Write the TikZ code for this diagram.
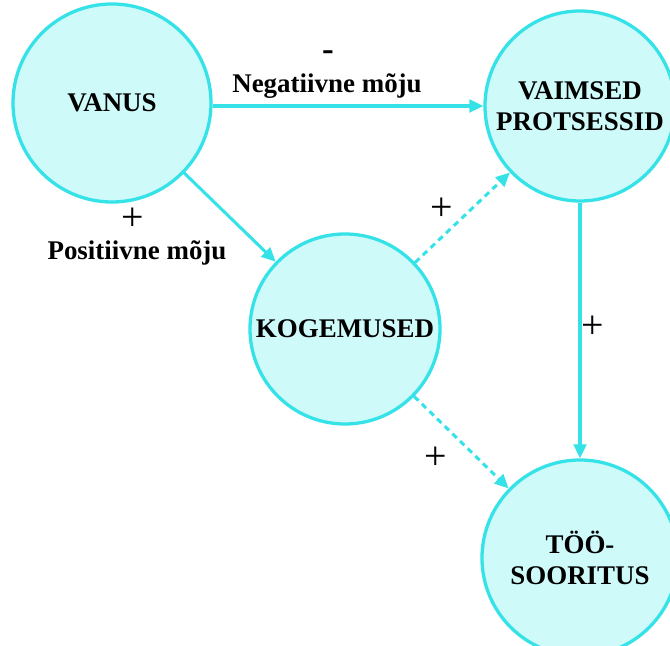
\documentclass[tikz,border=0pt]{standalone}
\usepackage{fontspec}
\setmainfont{Liberation Serif}
\usetikzlibrary{arrows.meta}

\definecolor{ringcyan}{RGB}{52,226,232}
\definecolor{fillcyan}{RGB}{206,250,250}

\tikzset{
  bubble/.style={circle,draw=ringcyan,fill=fillcyan,line width=2.8pt,
    inner sep=0pt,align=center,font=\fontsize{23}{26}\selectfont\bfseries},
  link/.style={draw=ringcyan,line width=2.6pt,
    -{Triangle[length=0.42cm,width=0.38cm]}},
  weak/.style={link,dash pattern=on 0.18cm off 0.14cm},
  sign/.style={inner sep=0pt,font=\fontsize{34}{34}\selectfont},
  effect/.style={inner sep=0pt,font=\fontsize{23}{26}\selectfont\bfseries}
}

\begin{document}
\begin{tikzpicture}[x=0.03cm,y=0.03cm]
      \useasboundingbox (0,0) rectangle (670,646);

      \begin{scope}[every node/.style={bubble}]
        \node[minimum size=5.94cm] (vanus)     at (112,543) {VANUS};
        \node[minimum size=5.7cm]  (vaimsed)   at (580,540) {VAIMSED\\PROTSESSID};
        \node[minimum size=5.7cm]  (kogemused) at (345,317) {KOGEMUSED};
        \node[minimum size=5.88cm] (too)       at (580,88)  {TÖÖ-\\SOORITUS};
      \end{scope}

      \begin{scope}[every edge/.style={link}]
        \path (vanus.east |- vaimsed.west) edge (vaimsed.west);
        \path (vanus)     edge (kogemused);
        \path (vaimsed)   edge (too);
      \end{scope}

      \begin{scope}[every edge/.style={weak}]
        \path (kogemused) edge (vaimsed);
        \path (kogemused) edge (too);
      \end{scope}

      % signs and effect labels
      \node[effect,font=\fontsize{30}{30}\selectfont\bfseries] (minus) at (328,590) {-};
      \node[effect] (neg)   at (327,560) {Negatiivne mõju};
      \node[sign]   (plus1) at (133,427) {+};
      \node[effect] (pos)   at (137,393) {Positiivne mõju};
      \node[sign]   (plus2) at (442,437) {+};
      \node[sign]   (plus3) at (593,319) {+};
      \node[sign]   (plus4) at (436,188) {+};

    \end{tikzpicture}
\end{document}
